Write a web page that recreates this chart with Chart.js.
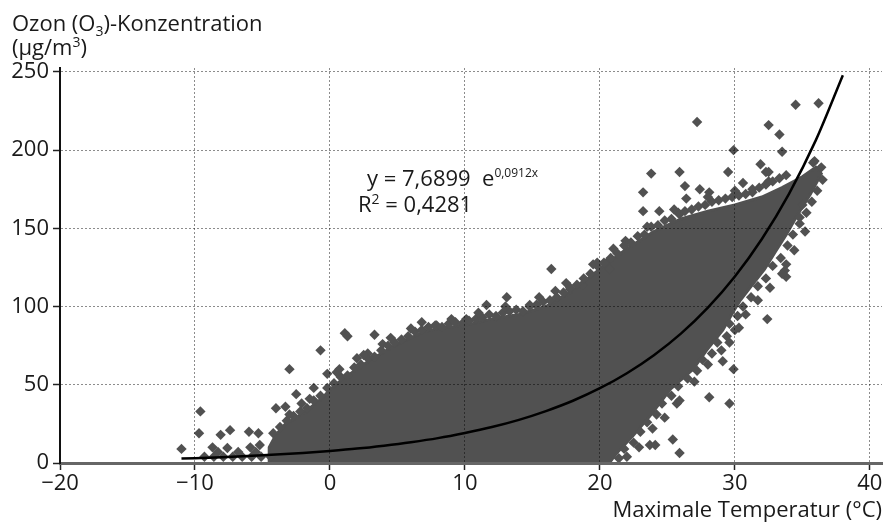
<!DOCTYPE html>
<html>
<head>
<meta charset="utf-8">
<script src="https://cdn.jsdelivr.net/npm/chart.js@4/dist/chart.umd.min.js"></script>
<style>
  html, body { margin: 0; padding: 0; background: #fff; }
  canvas { display: block; }
</style>
</head>
<body>
<canvas id="ozonChart" width="892" height="523"></canvas>
<script>
// axis ticks
const xTicks = [-20, -10, 0, 10, 20, 30, 40];
const yTicks = [0, 50, 100, 150, 200, 250];

// outline of the solid part of the point cloud
const cloudX = [-4.5, -4.5, -4, -3.3, -2.5, -1.5, -0.5, 0, 1, 2, 3, 4, 5, 6, 7, 8, 10, 12, 14, 16, 18, 20, 22, 24, 26, 28, 30, 32, 33.5, 35, 36,
  36.4, 35.6, 34.6, 33.8, 33, 32.2, 31.2, 30.4, 29.9, 29.1, 27.9, 26.9, 25.2, 23.7, 22.4, 21.2, 20.7];
const cloudY = [0, 10, 18, 25, 29, 35, 42, 47, 54, 60, 66, 71, 76, 80, 84, 86, 88, 92, 95, 100, 110, 124, 137, 148, 156, 161, 165, 170, 176, 183, 189,
  185, 172, 158, 146, 135, 124, 113, 104, 97, 85, 72, 60, 47, 30, 17, 6, 0];

// single measurements along the upper edge of the cloud
const edgeTopX = [-4.2, -3.7, -3.2, -2.7, -2.2, -1.7, -1.2, -0.7, -0.2, 0.3, 0.8, 1.3, 1.8, 2.3, 2.8, 3.3, 3.8, 4.3, 4.8, 5.3,
  5.8, 6.3, 6.8, 7.3, 7.8, 8.3, 8.8, 9.3, 9.8, 10.3, 10.8, 11.3, 11.8, 12.3, 12.8, 13.3, 13.8, 14.3, 14.8, 15.3, 15.8, 16.3,
  16.8, 17.3, 17.8, 18.3, 18.8, 19.3, 19.8, 20.3, 20.8, 21.3, 21.8, 22.3, 22.8, 23.3, 23.8, 24.3, 24.8, 25.3, 25.8, 26.3,
  26.8, 27.3, 27.8, 28.3, 28.8, 29.3, 29.8, 30.3, 30.8, 31.3, 31.8, 32.3, 32.8, 33.3, 33.8,
  -3, -1.5, 0.5, 2.5, 4.5, 6, 9, 11, 13, 15.5, 17.5, 19.5, 21, 23.5, 25.5, 28, 30, 32.5];
const edgeTopY = [19, 23, 27, 30, 33, 35, 40, 43, 48, 51, 55, 56, 61, 63, 67, 68, 72, 75, 77, 79,
  81, 84, 85, 87, 88, 87, 89, 90, 89, 91, 92, 93, 95, 94, 96, 97, 98, 97, 100, 101, 103, 104,
  106, 109, 112, 114, 118, 121, 126, 128, 131, 134, 139, 141, 145, 146, 151, 152, 155, 156, 160, 161,
  162, 164, 165, 167, 168, 169, 170, 171, 172, 175, 176, 178, 180, 182, 184,
  31, 41, 58, 69, 80, 86, 92, 96, 100, 106, 115, 127, 137, 151, 162, 170, 174, 186];

// single measurements along the lower right edge of the cloud
const edgeRightX = [21.4, 21.8, 22.5, 23, 23.5, 24.2, 24.6, 25.3, 25.8, 26.5, 27.2, 27.6, 28.3, 28.7, 29.4, 29.6, 30.2, 30.6,
  31.2, 31.7, 32.3, 32.8, 33.4, 33.9, 34.3, 34.8, 35.3, 35.7, 36.1, 36.5, 36.4,
  22, 22.9, 23.9, 24.8, 25.9, 27, 28, 29, 30, 30.8, 31.7, 32.6, 33.5, 34.4, 35.2];
const edgeRightY = [3, 9, 13, 20, 26, 31, 38, 43, 49, 54, 59, 66, 70, 77, 81, 89, 94, 100,
  106, 113, 118, 126, 131, 139, 146, 153, 160, 167, 174, 181, 189,
  4, 10, 22, 29, 40, 52, 63, 72, 85, 95, 104, 112, 121, 136, 148];

// isolated points outside the cloud
const outlierX = [
  -11, -9.6, -9.7, -8.7, -8.1, -7.4, -7.6, -6, -5.3, -5.9, -5.2, -4, -3.3, -3, -2.5, -2.1, -1.2, -0.7, -0.2, 0.7, 1.1, 1.3, 2,
  2.8, 3.3, 3.9, 6.8, 7.9,
  -9.3, -8.6, -7.9, -7.2, -6.5, -5.8, -5.1, -4.4, -8.3, -6.8, -5.5,
  10.1, 11.2, 11.6, 13.1, 14.8, 15.3, 16.4, 16.7, 17.8, 18.7, 19.8, 20.5, 20.7, 21.9,
  23.8, 25.9, 29.5, 29.9, 33.5, 31.9, 32.3, 32.5, 35.9, 23.2, 23.2, 24.4, 25.9, 26.3, 27.4, 28.1, 26.4, 30.6, 31.3,
  35, 34.8, 33.3, 32.5, 27.2, 34.5, 36.2, 35.8,
  32.4, 30.3, 29.6, 29.1, 29.9, 28.1, 29.6, 25.7, 25.4, 25.9, 23.7, 24.1, 33.8, 33.8, 33.7
];
const outlierY = [
  9, 33, 19, 10, 18, 21, 9.6, 20, 19, 10, 11.5, 35, 36, 60, 44, 38, 48, 72, 57, 60, 83, 81, 67,
  70, 82, 76, 90, 88,
  4, 4, 4, 4, 4, 4, 4, 4, 7, 7, 7,
  92, 93, 101, 106, 101, 101, 124, 110, 111, 114, 128, 128, 124, 142,
  185, 186, 186, 200, 199, 191, 186, 180, 193, 173, 161, 161, 159, 177, 175, 173, 169, 179, 173,
  165, 157, 210, 216, 218, 229, 230, 192,
  92, 86.5, 77, 65, 60, 42, 38, 38, 15, 6.4, 11.5, 11.5, 127, 119, 123
];

// exponential trend line y = 7,6899 e^(0,0912x)
const fitX = [-11, -8, -5, -2, 0, 2, 4, 6, 8, 10, 12, 14, 16, 18, 20, 22, 24, 26, 28, 30, 32, 34, 36, 38];
const fitY = [2.8, 3.7, 4.9, 6.4, 7.7, 9.2, 11.1, 13.3, 15.9, 19.2, 23.0, 27.6, 33.2, 39.8, 47.8, 57.4, 68.9, 82.7, 99.3, 119.2, 143.2, 171.9, 206.4, 247.9];

const toXY = (xs, ys) => xs.map((x, i) => ({ x: x, y: ys[i] }));

const FONT = '"Open Sans", "DejaVu Sans", sans-serif';
const CLOUD = '#515151';

function textRun(ctx, parts, x, y) {
  parts.forEach(p => {
    ctx.font = p[1] + 'px ' + FONT;
    ctx.fillText(p[0], x, y + (p[2] || 0));
    x += ctx.measureText(p[0]).width;
  });
}

const textPlugin = {
  id: 'texts',
  afterDraw(chart) {
    const ctx = chart.ctx;
    ctx.save();
    ctx.fillStyle = '#1a1a1a';
    ctx.textBaseline = 'alphabetic';
    ctx.textAlign = 'left';
    textRun(ctx, [['Ozon (O', 22], ['3', 14, 5], [')-Konzentration', 22]], 12, 31);
    textRun(ctx, [['(\u00b5g/m', 22], ['3', 14, -8], [')', 22]], 12, 55);
    textRun(ctx, [['y = 7,6899  e', 22], ['0,0912x', 12, -9]], 367, 186);
    textRun(ctx, [['R', 22], ['2', 14, -8], [' = 0,4281', 22]], 358, 212);
    ctx.font = '22px ' + FONT;
    ctx.textAlign = 'right';
    ctx.fillText('Maximale Temperatur (\u00b0C)', 882, 517);
    ctx.restore();
  }
};

const pointStyle = { pointStyle: 'rectRot', pointRadius: 5.2, backgroundColor: CLOUD, borderWidth: 0, order: 1 };

new Chart(document.getElementById('ozonChart'), {
  type: 'scatter',
  data: {
    datasets: [
      {
        data: toXY(fitX, fitY),
        showLine: true,
        borderColor: '#000',
        borderWidth: 2.5,
        pointRadius: 0,
        cubicInterpolationMode: 'monotone',
        order: 0
      },
      Object.assign({ data: toXY(edgeTopX, edgeTopY) }, pointStyle),
      Object.assign({ data: toXY(edgeRightX, edgeRightY) }, pointStyle),
      Object.assign({ data: toXY(outlierX, outlierY) }, pointStyle),
      {
        data: toXY(cloudX, cloudY),
        showLine: true,
        fill: 'shape',
        backgroundColor: CLOUD,
        borderColor: CLOUD,
        borderWidth: 3,
        pointRadius: 0,
        tension: 0,
        order: 2
      }
    ]
  },
  options: {
    responsive: false,
    animation: false,
    events: [],
    layout: { padding: { top: 68, right: 10, left: 0, bottom: 0 } },
    plugins: { legend: { display: false }, tooltip: { enabled: false } },
    scales: {
      x: {
        type: 'linear',
        min: -20,
        max: 40.9,
        afterBuildTicks: s => { s.ticks = xTicks.map(v => ({ value: v })); },
        afterFit: s => { s.height = 60; },
        grid: { color: 'rgba(0,0,0,0.45)', lineWidth: 1, z: 1, tickLength: 7, tickColor: '#222', tickWidth: 1.5 },
        border: { color: '#666', width: 3, dash: [2, 2], z: 2 },
        ticks: {
          color: '#1a1a1a',
          font: { family: FONT, size: 22 },
          padding: 1,
          maxRotation: 0,
          callback: v => String(v).replace('-', '\u2212')
        }
      },
      y: {
        type: 'linear',
        min: 0,
        max: 252.5,
        afterBuildTicks: s => { s.ticks = yTicks.map(v => ({ value: v })); },
        afterFit: s => { s.width = 60; },
        grid: { color: 'rgba(0,0,0,0.45)', lineWidth: 1, z: 1, tickLength: 7, tickColor: '#222', tickWidth: 1.5 },
        border: { color: '#111', width: 2, dash: [2, 2], z: 2 },
        ticks: {
          color: '#1a1a1a',
          font: { family: FONT, size: 22 },
          padding: 4
        }
      }
    }
  },
  plugins: [textPlugin]
});
</script>
</body>
</html>
